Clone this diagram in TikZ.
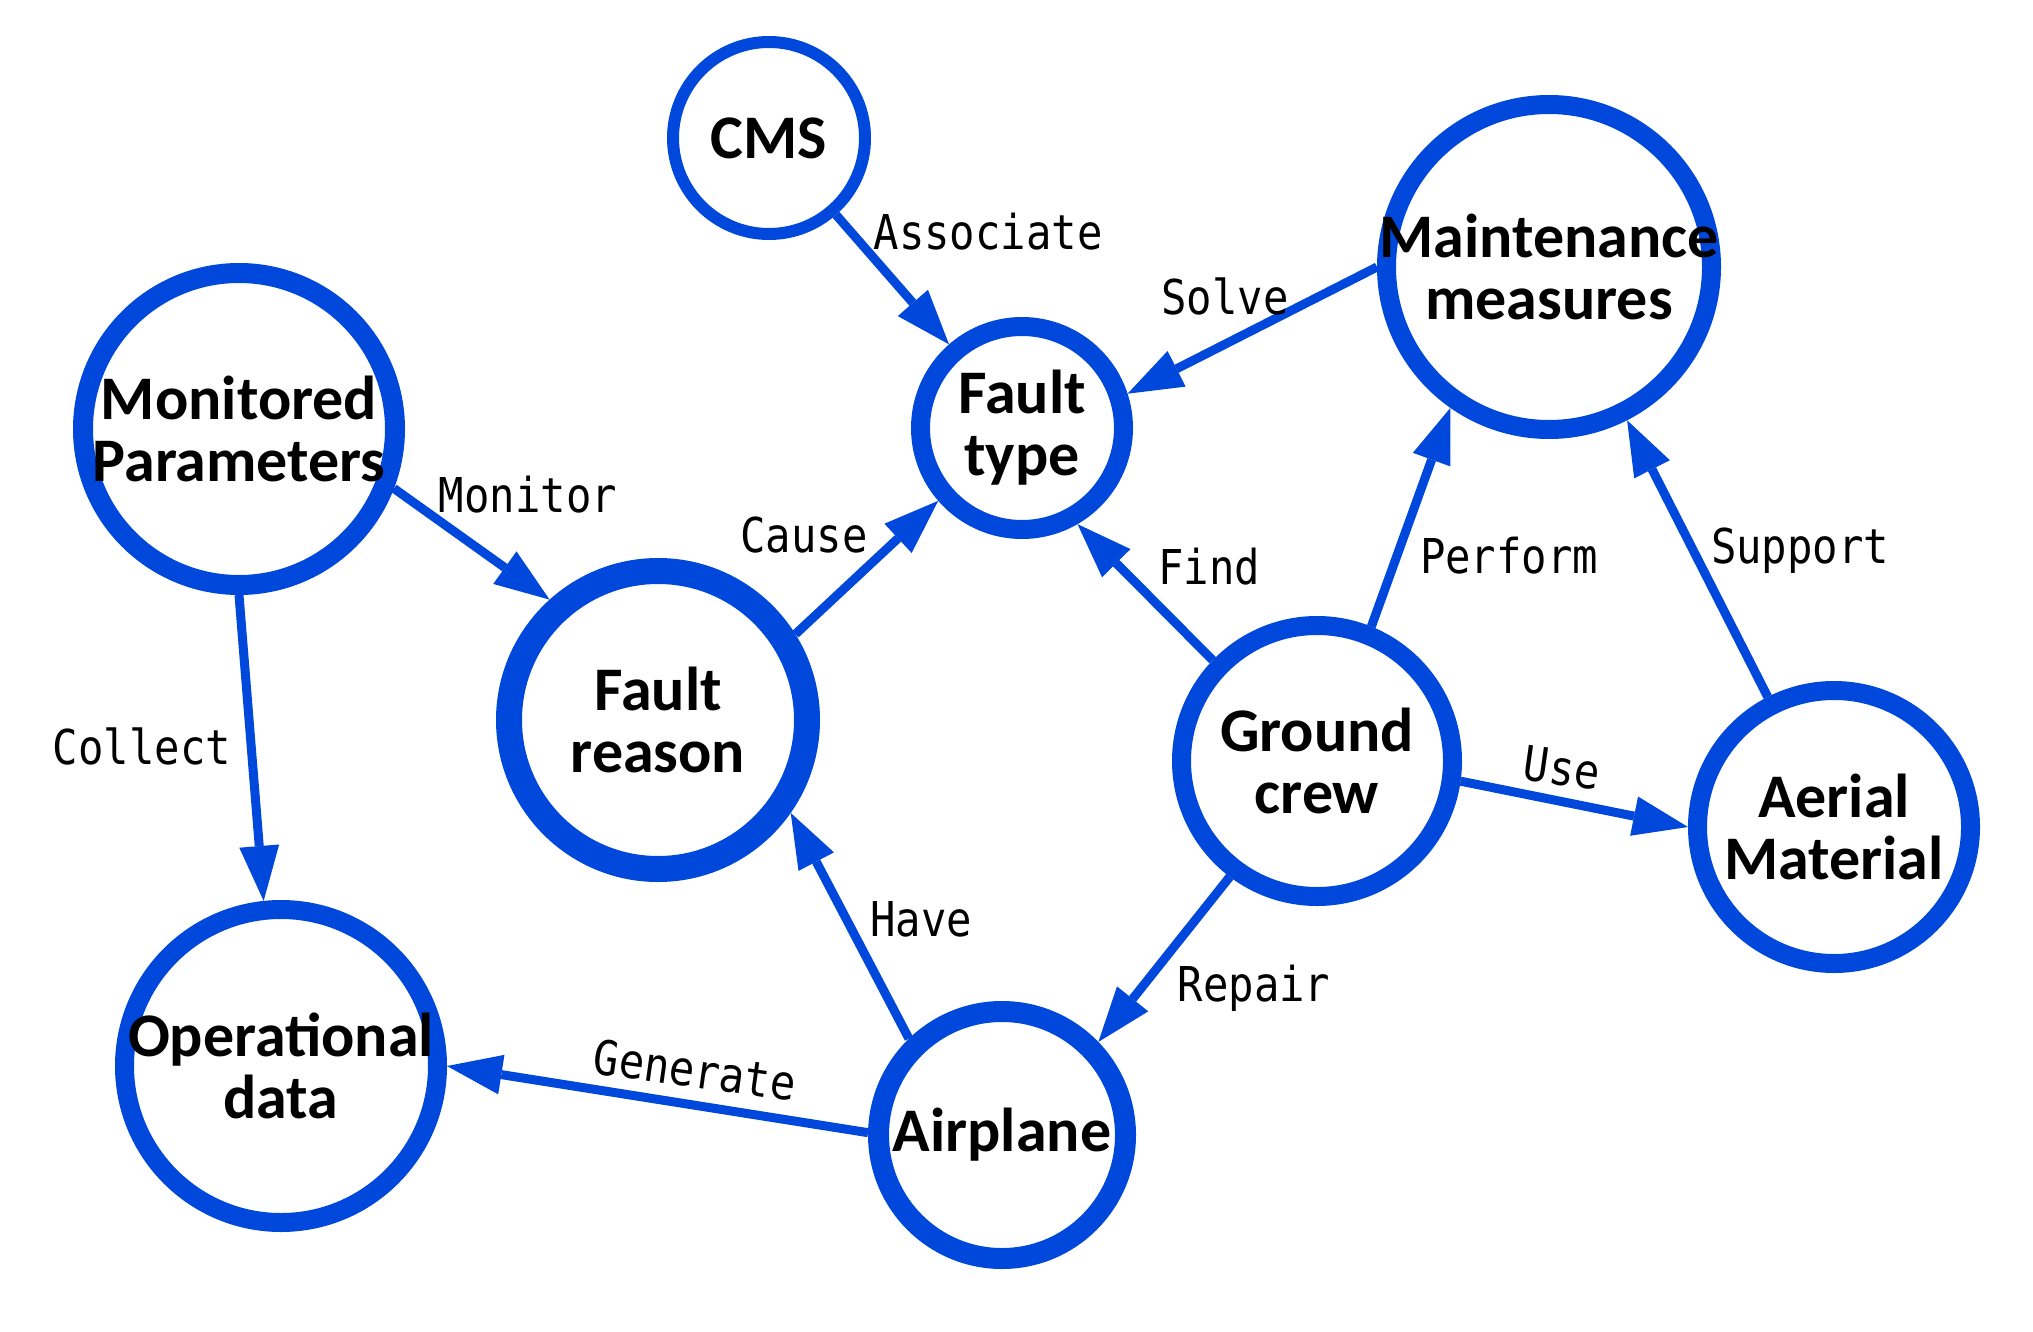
\documentclass[tikz,border=0pt]{standalone}
\usepackage{fontspec}
\setmainfont{Carlito}
\newfontfamily\labfont[FakeStretch=0.88]{DejaVu Sans Mono}
\usetikzlibrary{arrows.meta}
\definecolor{kblue}{RGB}{0,72,220}
\begin{document}
\begin{tikzpicture}[x=1pt,y=-1pt,
  nd/.style={circle, draw=kblue, inner sep=0pt},
  ntext/.style={font=\bfseries\fontsize{62}{62}\selectfont, align=center, text=black, inner sep=0pt},
  arr/.style={draw=kblue, line width=9pt, -{Triangle[length=55pt,width=40pt,line width=0pt]}},
  lab/.style={font=\labfont\fontsize{48}{48}\selectfont, text=black, inner sep=0pt, anchor=base}
]
\useasboundingbox (0,0) rectangle (2033,1332);

% nodes
\node[nd, line width=12pt, minimum size=192pt, label={[ntext]center:CMS}] (CMS) at (769,138) {};
\node[nd, line width=20pt, minimum size=312pt, label={[ntext]center:{Monitored\\Parameters}}] (MP) at (239,429) {};
\node[nd, line width=19pt, minimum size=203pt, label={[ntext]center:{Fault\\type}}] (FT) at (1022,428) {};
\node[nd, line width=19pt, minimum size=325pt, label={[ntext]center:{Maintenance\\measures}}] (MM) at (1549,267) {};
\node[nd, line width=26pt, minimum size=298pt, label={[ntext]center:{Fault\\reason}}] (FR) at (658,720) {};
\node[nd, line width=19pt, minimum size=313pt, label={[ntext]center:{Operational\\data}}] (OD) at (281,1066) {};
\node[nd, line width=21pt, minimum size=247pt, label={[ntext]center:Airplane}] (AP) at (1002,1135) {};
\node[nd, line width=19pt, minimum size=271pt, label={[ntext]center:{Ground\\crew}}] (GC) at (1317,761) {};
\node[nd, line width=19pt, minimum size=273pt, label={[ntext]center:{Aerial\\Material}}] (AM) at (1834,827) {};

% connectors
\draw[arr] (CMS) -- (FT);
\draw[arr] (MP.-21) -- (FR.132);
\draw[arr] (FR.32) -- (FT.221);
\draw[arr] (MM.180) -- (FT.18);
\draw[arr] (GC.136) -- (FT.-60);
\draw[arr] (GC.68) -- (MM.-125);
\draw[arr] (AM.117) -- (MM.-63);
\draw[arr] (GC.-8) -- (AM.180);
\draw[arr] (GC.-127) -- (AP.44);
\draw[arr] (AP.134) -- (FR.-35);
\draw[arr] (AP.179) -- (OD.0);
\draw[arr] (MP.-90) -- (OD.96);

% connector labels
\node[lab] (lAssoc) at (988,250) {Associate};
\node[lab] (lMon) at (528,512) {Monitor};
\node[lab] (lCause) at (804,552) {Cause};
\node[lab] (lSolve) at (1225,314) {Solve};
\node[lab] (lFind) at (1209,584) {Find};
\node[lab] (lPerf) at (1509,573) {Perform};
\node[lab] (lSup) at (1800,563) {Support};
\node[lab] (lCol) at (142,764) {Collect};
\node[lab] (lHave) at (921,936) {Have};
\node[lab] (lRep) at (1254,1001) {Repair};
\node[lab, anchor=center, rotate=-8] (lGen) at (695,1070) {Generate};
\node[lab, anchor=center, rotate=-8] (lUse) at (1562,768) {Use};
\end{tikzpicture}
\end{document}
